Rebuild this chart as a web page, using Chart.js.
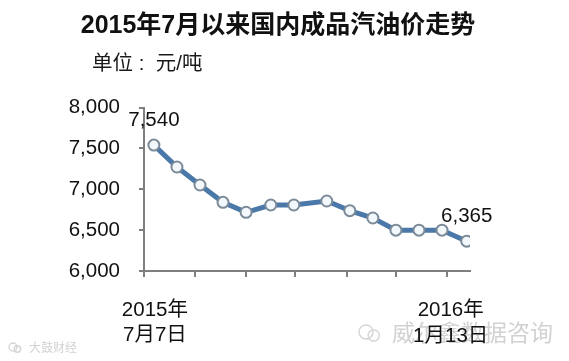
<!DOCTYPE html>
<html>
<head>
<meta charset="utf-8">
<style>
  html, body { margin: 0; padding: 0; background: #fff; }
  #wrap { width: 569px; height: 361px; }
</style>
<script src="https://cdn.jsdelivr.net/npm/chart.js@4/dist/chart.umd.min.js"></script>
</head>
<body>
<div id="wrap"><canvas id="myChart" width="569" height="361"></canvas></div>
<script>
// priser lest av bildet
const titleText = '2015年7月以来国内成品汽油价走势';
const unitText = '单位 :  元/吨';
const priceDates = ['2015-07-07','2015-07-21','2015-08-04','2015-08-18','2015-09-01','2015-09-16','2015-09-30','2015-10-20','2015-11-03','2015-11-17','2015-12-01','2015-12-15','2015-12-29','2016-01-13'];
const prices = [7540,7272,7052,6840,6718,6807,6807,6856,6738,6648,6500,6500,6500,6365];
const monthTicks = ['2015-07-01','2015-08-01','2015-09-01','2015-10-01','2015-11-01','2015-12-01','2016-01-01'];
const startLabel = ['2015年','7月7日'];
const endLabel = ['2016年','1月13日'];
const labelledPoints = [0, 13];
const watermarkRight = '威尔鑫数据咨询';
const watermarkLeft = '大鼓财经';

const fontName = '"Liberation Sans", "Noto Sans CJK SC", sans-serif';

// dager siden 1. juli, x-aksen er en tidsakse med månedsstreker
function dayOf(s) {
    return (Date.parse(s) - Date.parse('2015-07-01')) / 86400000;
}

// to små bobler, logoen i vannmerket
function bubbles(ctx, x, y, r) {
    ctx.beginPath();
    ctx.arc(x, y, r, 0, Math.PI * 2);
    ctx.moveTo(x + r * 1.9, y + r * 0.5);
    ctx.arc(x + r * 1.1, y + r * 0.5, r * 0.8, 0, Math.PI * 2);
    ctx.stroke();
}

// vannmerket ligger under alt annet
const watermark = {
    id: 'watermark',
    beforeDraw(chart) {
        const ctx = chart.ctx;
        ctx.save();
        ctx.textBaseline = 'middle';
        ctx.textAlign = 'left';
        ctx.fillStyle = '#d2d2d2';
        ctx.strokeStyle = '#d6d6d6';
        ctx.lineWidth = 1.5;
        ctx.font = '23px ' + fontName;
        ctx.fillText(watermarkRight, 392, 335);
        bubbles(ctx, 366, 332, 7);
        ctx.font = '12px ' + fontName;
        ctx.fillText(watermarkLeft, 29, 349);
        bubbles(ctx, 13, 347, 4);
        ctx.restore();
    }
};

// tekst som ikke er vanlige akseetiketter
const extraText = {
    id: 'extraText',
    afterDraw(chart) {
        const ctx = chart.ctx;
        const x = chart.scales.x;
        const y = chart.scales.y;
        ctx.save();
        ctx.textBaseline = 'middle';

        ctx.textAlign = 'center';
        ctx.fillStyle = '#111';
        ctx.font = 'bold 25px ' + fontName;
        ctx.fillText(titleText, 278, 26);

        ctx.textAlign = 'left';
        ctx.fillStyle = '#1a1a1a';
        ctx.font = '20.5px ' + fontName;
        ctx.fillText(unitText, 92, 64);

        ctx.textAlign = 'center';
        ctx.fillStyle = '#111';
        labelledPoints.forEach(i => {
            const px = x.getPixelForValue(dayOf(priceDates[i]));
            const py = y.getPixelForValue(prices[i]);
            ctx.fillText(prices[i].toLocaleString('en-US'), px, py - 25);
        });

        const startX = x.getPixelForValue(dayOf(priceDates[0]));
        ctx.fillText(startLabel[0], startX + 1, 310);
        ctx.fillText(startLabel[1], startX + 1, 335);
        const endX = x.getPixelForValue(dayOf(priceDates[priceDates.length - 1]));
        ctx.fillText(endLabel[0], endX - 16, 310);
        ctx.fillText(endLabel[1], endX - 16, 336);
        ctx.restore();
    }
};

new Chart(document.getElementById('myChart').getContext('2d'), {
    type: 'line',
    data: {
        datasets: [{
            label: '国内成品汽油价',
            data: priceDates.map((d, i) => ({ x: dayOf(d), y: prices[i] })),
            borderColor: '#4a78a8',
            borderWidth: 5,
            tension: 0,
            pointRadius: 5.5,
            pointBorderWidth: 2,
            pointBorderColor: '#7d8b99',
            pointBackgroundColor: '#f2f8fb'
        }]
    },
    options: {
        responsive: false,
        animation: false,
        layout: { padding: { top: 107.5, right: 99, left: 0, bottom: 0 } },
        plugins: {
            legend: { display: false },
            tooltip: { enabled: false }
        },
        scales: {
            x: {
                type: 'linear',
                min: 0,
                max: 198,
                afterBuildTicks: s => { s.ticks = monthTicks.map(d => ({ value: dayOf(d) })); },
                afterFit: s => { s.height = 90; },
                border: { color: '#7f7f7f', width: 2 },
                grid: { drawOnChartArea: false, color: '#7f7f7f', lineWidth: 2, tickLength: 6 },
                ticks: { autoSkip: false, maxRotation: 0, callback: () => '' }
            },
            y: {
                min: 6000,
                max: 8000,
                afterFit: s => { s.width = 144; },
                border: { color: '#7f7f7f', width: 2 },
                grid: { drawOnChartArea: false, color: '#7f7f7f', lineWidth: 2, tickLength: 5 },
                ticks: {
                    stepSize: 500,
                    padding: 19,
                    color: '#111',
                    font: { family: fontName, size: 20.5 },
                    callback: v => v.toLocaleString('en-US')
                }
            }
        }
    },
    plugins: [watermark, extraText]
});
</script>
</body>
</html>
